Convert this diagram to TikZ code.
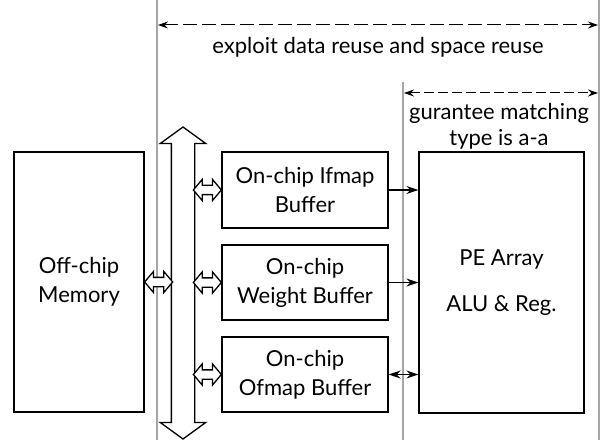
\documentclass[tikz,border=0pt]{standalone}
\usepackage{fontspec}
\setmainfont{Lato}
\usetikzlibrary{arrows.meta,shapes.arrows,calc}

\begin{document}
\begin{tikzpicture}[x=1pt, y=-1pt,
    every node/.style={font=\fontsize{22}{29}\selectfont},
    box/.style={draw, line width=1.3pt, align=center, inner sep=0pt},
    hollow/.style={draw, double arrow, line width=1.3pt, fill=white,
      minimum height=28pt, inner xsep=0pt, inner ysep=4pt,
      double arrow head extend=6pt, double arrow tip angle=100},
    guide/.style={gray!70, line width=1.6pt},
    reusearrow/.style={line width=1pt, dash pattern=on 14pt off 5pt,
      {Stealth[length=10pt,width=7pt]}-{Stealth[length=10pt,width=7pt]}},
    feed/.style={line width=1.3pt, -{Stealth[length=12pt,width=8pt]}}]
  % Canvas: 1pt per pixel, y grows downwards
  \useasboundingbox (0,0) rectangle (609,443);

  % Grey guide lines
  \draw[guide] (157,0) -- (157,440);
  \draw[guide] (403,82) -- (403,440);
  \draw[guide] (599,0) -- (599,440);

  % Reuse ranges
  \coordinate (r1a) at (158,25);
  \coordinate (r1b) at (598,25);
  \draw[reusearrow] (r1a) -- (r1b);
  \node (reuse) at (378,47) {exploit data reuse and space reuse};
  \coordinate (r2a) at (404,93);
  \coordinate (r2b) at (598,93);
  \draw[reusearrow, dash pattern=on 10pt off 4pt] (r2a) -- (r2b);
  \node[align=center, font=\fontsize{22}{26}\selectfont] (match) at (499,126)
    {gurantee matching\\type is a-a};

  % Blocks
  \node[box, minimum width=130pt, minimum height=260pt] (mem) at (79,282)
    {Off-chip\\Memory};
  \node[box, minimum width=166pt, minimum height=76pt] (ifmap) at (305,190)
    {On-chip Ifmap\\Buffer};
  \node[box, minimum width=166pt, minimum height=75pt] (weight) at (305,282.5)
    {On-chip\\Weight Buffer};
  \node[box, minimum width=166pt, minimum height=75pt] (ofmap) at (305,374.5)
    {On-chip\\Ofmap Buffer};
  \node[box, minimum width=165pt, minimum height=261pt,
        font=\fontsize{22}{46}\selectfont] (pe) at (501.5,282.5)
    {PE Array\\ALU \& Reg.};

  % Bus
  \node[hollow, minimum height=312pt, inner ysep=11pt,
        double arrow head extend=11pt, double arrow tip angle=108,
        rotate=90] (bus) at (183,283) {};

  % Hollow links to the bus
  \node[hollow] (lmem) at ($(mem.east)+(14,0)$) {};
  \foreach \buf in {ifmap, weight, ofmap} {
    \node[hollow] (l\buf) at ($(\buf.west)+(-14,0)$) {};
  }

  % Buffers to PE array
  \draw[feed] (ifmap.east) -- (ifmap.east -| pe.west);
  \draw[feed] (weight.east) -- (weight.east -| pe.west);
  \draw[feed, {Stealth[length=12pt,width=8pt]}-{Stealth[length=12pt,width=8pt]}]
    (ofmap.east) -- (ofmap.east -| pe.west);
\end{tikzpicture}
\end{document}
